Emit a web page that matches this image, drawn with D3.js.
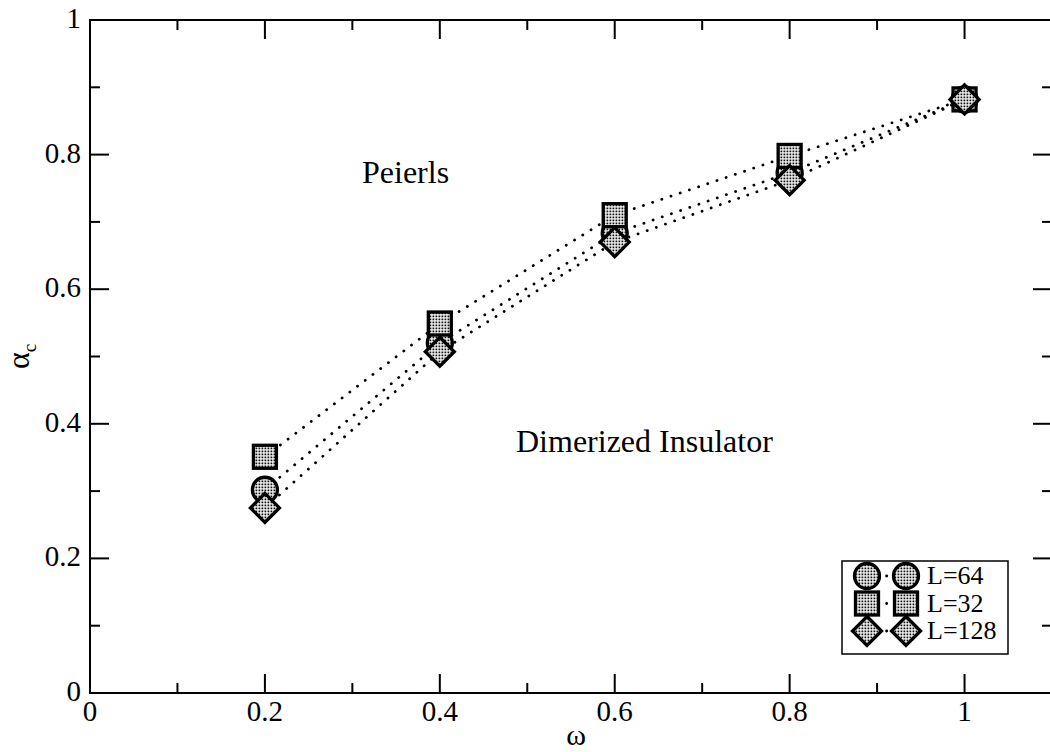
<!DOCTYPE html>
<html>
<head>
<meta charset="utf-8">
<script src="https://cdn.jsdelivr.net/npm/d3@7"></script>
<style>
  body { margin: 0; background: white; }
  svg { display: block; font-family: "Liberation Serif", "Times New Roman", serif; }
  .dots { fill: none; stroke: black; stroke-width: 2.8; stroke-linecap: round; stroke-dasharray: 0.1 9.6; }
</style>
</head>
<body>
<svg id="chart"></svg>
<script>
// data
const omega = [0.2, 0.4, 0.6, 0.8, 1.0];
const alphaL64 = [0.302, 0.520, 0.683, 0.773, 0.882];
const alphaL32 = [0.351, 0.549, 0.710, 0.798, 0.882];
const alphaL128 = [0.275, 0.507, 0.670, 0.762, 0.882];
const seriesNames = ["L=64", "L=32", "L=128"];
const xTicks = [0, 0.2, 0.4, 0.6, 0.8, 1];
const yTicks = [0, 0.2, 0.4, 0.6, 0.8, 1];

const width = 1050, height = 752;
const margin = { top: 20, right: -2, bottom: 59, left: 90 };

const svg = d3.select("#chart").attr("width", width).attr("height", height);

// stipple fill used by the markers
const defs = svg.append("defs");
const pat = defs.append("pattern")
    .attr("id", "stipple")
    .attr("width", 3).attr("height", 3)
    .attr("patternUnits", "userSpaceOnUse");
pat.append("rect").attr("width", 3).attr("height", 3).attr("fill", "white");
pat.append("rect").attr("x", 0.5).attr("y", 0.5).attr("width", 1.8).attr("height", 1.8).attr("fill", "#111");

const x = d3.scaleLinear().domain([0, 1.1]).range([margin.left, width - margin.right]);
const y = d3.scaleLinear().domain([0, 1]).range([height - margin.bottom, margin.top]);

const x0 = x.range()[0], x1 = x.range()[1];
const y0 = y.range()[0], y1 = y.range()[1];

// frame
svg.append("rect")
    .attr("x", x0).attr("y", y1)
    .attr("width", x1 - x0).attr("height", y0 - y1)
    .attr("fill", "none").attr("stroke", "black").attr("stroke-width", 2);

// ticks, inward, on all four sides
const majorLen = 19, minorLen = 10;
const xMinor = d3.range(0.1, 1.1, 0.2);
const yMinor = d3.range(0.1, 1.0, 0.2);
const tickG = svg.append("g").attr("stroke", "black").attr("stroke-width", 2);

function xTick(v, len) {
    tickG.append("line").attr("x1", x(v)).attr("x2", x(v)).attr("y1", y0).attr("y2", y0 - len);
    tickG.append("line").attr("x1", x(v)).attr("x2", x(v)).attr("y1", y1).attr("y2", y1 + len);
}
function yTick(v, len) {
    tickG.append("line").attr("y1", y(v)).attr("y2", y(v)).attr("x1", x0).attr("x2", x0 + len);
    tickG.append("line").attr("y1", y(v)).attr("y2", y(v)).attr("x1", x1).attr("x2", x1 - len);
}
xTicks.forEach(v => xTick(v, majorLen));
xMinor.forEach(v => xTick(v, minorLen));
yTicks.forEach(v => yTick(v, majorLen));
yMinor.forEach(v => yTick(v, minorLen));

// tick labels
svg.selectAll(".xl").data(xTicks).enter().append("text")
    .attr("x", d => x(d)).attr("y", y0 + 28)
    .attr("text-anchor", "middle").attr("font-size", 29)
    .text(d => d3.format("~g")(d));
svg.selectAll(".yl").data(yTicks).enter().append("text")
    .attr("x", x0 - 9).attr("y", d => y(d) + 8)
    .attr("text-anchor", "end").attr("font-size", 29)
    .text(d => d3.format("~g")(d));

// axis titles
svg.append("text")
    .attr("x", (x0 + x1) / 2 + 5).attr("y", 745)
    .attr("text-anchor", "middle").attr("font-size", 30)
    .text("ω");
const yt = svg.append("text")
    .attr("transform", `translate(29, ${(y0 + y1) / 2}) rotate(-90)`)
    .attr("text-anchor", "middle").attr("font-size", 32);
yt.append("tspan").text("α");
yt.append("tspan").attr("font-size", 19).attr("dy", 7).text("c");

// region labels
svg.append("text").attr("x", 362).attr("y", 183).attr("font-size", 32).text("Peierls");
svg.append("text").attr("x", 516).attr("y", 452).attr("font-size", 32).text("Dimerized Insulator");

// series
const series = [
    { name: seriesNames[0], values: alphaL64, shape: "circle" },
    { name: seriesNames[1], values: alphaL32, shape: "square" },
    { name: seriesNames[2], values: alphaL128, shape: "diamond" }
];

const line = d3.line().x(d => x(d[0])).y(d => y(d[1]));

series.forEach(s => {
    svg.append("path")
        .attr("class", "dots")
        .attr("d", line(omega.map((w, i) => [w, s.values[i]])));
});

function drawMarker(g, shape, cx, cy) {
    const st = { fill: "url(#stipple)", stroke: "black", "stroke-width": 3.3 };
    let m;
    if (shape === "circle") {
        m = g.append("circle").attr("cx", cx).attr("cy", cy).attr("r", 12.5);
    } else if (shape === "square") {
        m = g.append("rect").attr("x", cx - 11.5).attr("y", cy - 11.5).attr("width", 23).attr("height", 23);
    } else {
        const r = 14.5;
        m = g.append("path").attr("d", `M${cx},${cy - r}L${cx + r},${cy}L${cx},${cy + r}L${cx - r},${cy}Z`);
    }
    Object.entries(st).forEach(([k, v]) => m.attr(k, v));
}

const markG = svg.append("g");
series.forEach(s => {
    omega.forEach((w, i) => drawMarker(markG, s.shape, x(w), y(s.values[i])));
});

// legend
const lg = svg.append("g");
lg.append("rect")
    .attr("x", 842).attr("y", 561).attr("width", 166).attr("height", 93)
    .attr("fill", "white").attr("stroke", "black").attr("stroke-width", 1.5);
series.forEach((s, i) => {
    const cy = 576 + i * 27.5;
    lg.append("line")
        .attr("class", "dots")
        .attr("x1", 867).attr("x2", 906).attr("y1", cy).attr("y2", cy)
        .style("stroke-dasharray", "0.1 19.5");
    drawMarker(lg, s.shape, 867, cy);
    drawMarker(lg, s.shape, 906, cy);
    lg.append("text").attr("x", 927).attr("y", cy + 8).attr("font-size", 26).text(s.name);
});
</script>
</body>
</html>
